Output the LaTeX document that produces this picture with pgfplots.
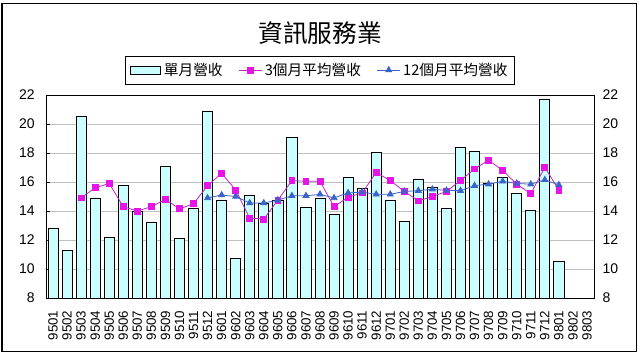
\documentclass[border=0pt]{standalone}
\usepackage{pgfplots}
\pgfplotsset{compat=1.18}
\usepackage{fontspec}
\setmainfont{Liberation Sans}
\newfontfamily\cjk{Noto Sans CJK TC}
\definecolor{barfill}{RGB}{204,255,255}
\definecolor{magline}{RGB}{190,40,190}
\definecolor{magmark}{RGB}{230,20,230}
\definecolor{blueline}{RGB}{60,100,200}
\definecolor{gridgray}{RGB}{192,192,192}
\pgfplotsset{boxlegend/.style={legend image code/.code={\draw[##1] (0pt,-3pt) rectangle (23pt,3pt);}}}
\begin{document}
\begin{tikzpicture}
\path[use as bounding box] (0,0) rectangle (480pt,266.25pt);
\draw[black,line width=0.8pt] (1.5pt,2.5pt) rectangle (477.5pt,263.5pt);
\node[font=\cjk\fontsize{18.5}{20}\selectfont] at (240pt,241.5pt) {資訊服務業};
\begin{axis}[
  at={(34.5pt,42.75pt)}, anchor=south west,
  scale only axis, width=411pt, height=152.25pt,
  xmin=-0.5, xmax=38.5, ymin=8, ymax=22,
  ytick={8,10,...,22},
  xtick={0,...,38},
  xticklabels={9501,9502,9503,9504,9505,9506,9507,9508,9509,9510,9511,9512,9601,9602,9603,9604,9605,9606,9607,9608,9609,9610,9611,9612,9701,9702,9703,9704,9705,9706,9707,9708,9709,9710,9711,9712,9801,9802,9803},
  xticklabel style={yshift=-6pt, rotate=90, anchor=east, font=\fontsize{10}{11}\selectfont},
  yticklabel style={xshift=-5pt, font=\fontsize{10.5}{12}\selectfont},
  /pgf/number format/assume math mode=true,
  x tick style={draw=none},
  y tick style={black},
  tick align=inside, major tick length=3pt,
  ytick pos=left,
  ymajorgrids, grid style={gridgray, line width=0.6pt},
  axis line style={black, line width=0.6pt},
  legend style={at={(0.5,1)}, yshift=8pt, anchor=south, legend columns=3, draw=black, line width=0.6pt,
    font=\cjk\fontsize{11}{13}\selectfont, inner sep=3pt,
    /tikz/every even column/.append style={column sep=10pt}},
  legend cell align=left,
]
\addplot[ybar, bar width=0.72, fill=barfill, draw=black, line width=0.6pt, boxlegend]
coordinates {
(0,12.8) (1,11.3) (2,20.5) (3,14.9) (4,12.2) (5,15.8) (6,13.95) (7,13.2) (8,17.1) (9,12.1) (10,14.2) (11,20.9)
(12,14.7) (13,10.75) (14,15.1) (15,14.5) (16,14.7) (17,19.1) (18,14.25) (19,14.85) (20,13.75) (21,16.3) (22,15.55) (23,18.05)
(24,14.7) (25,13.3) (26,16.2) (27,15.6) (28,14.2) (29,18.4) (30,18.1) (31,15.9) (32,16.3) (33,15.2) (34,14.05) (35,21.7)
(36,10.5)
};
\addlegendentry{單月營收}
\addplot[magline, line width=0.6pt, mark=square*, mark size=2.2pt, mark options={fill=magmark, draw=magmark}]
coordinates {
(2,14.9) (3,15.6) (4,15.9) (5,14.3) (6,14.0) (7,14.3) (8,14.8) (9,14.15) (10,14.5) (11,15.75)
(12,16.6) (13,15.45) (14,13.5) (15,13.45) (16,14.75) (17,16.1) (18,16.05) (19,16.05) (20,14.3) (21,14.95) (22,15.25) (23,16.65)
(24,16.1) (25,15.35) (26,14.7) (27,15.0) (28,15.35) (29,16.1) (30,16.9) (31,17.5) (32,16.8) (33,15.85) (34,15.2) (35,17.0)
(36,15.45)
};
\addlegendentry{3個月平均營收}
\addplot[blueline, line width=0.6pt, mark=triangle*, mark size=2.6pt, mark options={fill=blueline, draw=blueline}]
coordinates {
(11,14.9) (12,15.1) (13,15.0) (14,14.55) (15,14.55) (16,14.75) (17,15.05) (18,15.05) (19,15.15) (20,14.9) (21,15.25) (22,15.3) (23,15.15)
(24,15.15) (25,15.35) (26,15.4) (27,15.5) (28,15.42) (29,15.4) (30,15.75) (31,15.85) (32,16.05) (33,15.9) (34,15.85) (35,16.15)
(36,15.8)
};
\addlegendentry{12個月平均營收}
\end{axis}
\begin{axis}[
  at={(34.5pt,42.75pt)}, anchor=south west,
  scale only axis, width=411pt, height=152.25pt,
  xmin=-0.5, xmax=38.5, ymin=8, ymax=22,
  ytick={8,10,...,22},
  axis x line=none, axis y line*=right,
  yticklabel style={xshift=3pt, font=\fontsize{10.5}{12}\selectfont},
  /pgf/number format/assume math mode=true,
  y tick style={draw=none},
  axis line style={black, line width=0.6pt},
]
\end{axis}
\end{tikzpicture}
\end{document}
